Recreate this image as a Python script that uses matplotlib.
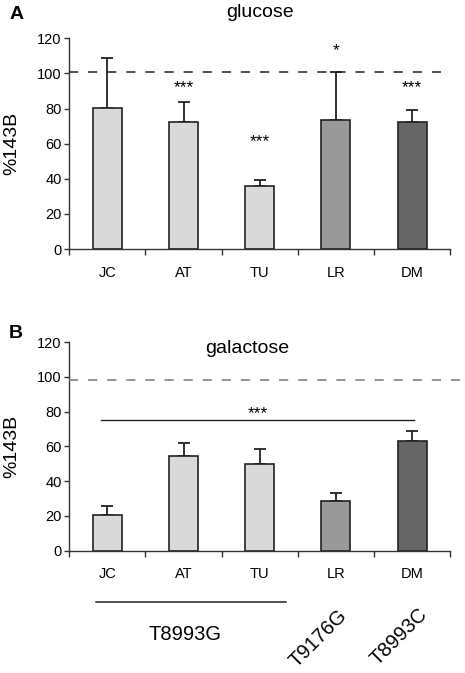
import numpy as np
import matplotlib
matplotlib.use("Agg")
import matplotlib.pyplot as plt
import matplotlib.transforms as mtransforms

plt.rcParams['font.family'] = ['Liberation Sans', 'DejaVu Sans']

# data
patients = ["JC", "AT", "TU", "LR", "DM"]
bar_colors = ["#d9d9d9", "#d9d9d9", "#d9d9d9", "#999999", "#666666"]

glu_mean = [80.5, 72.2, 36.1, 73.7, 72.2]
glu_top = [109.0, 83.6, 39.1, 100.6, 79.0]
glu_stars = ["", "***", "***", "*", "***"]
glu_star_y = [0, 92, 61, 113, 92]
glu_ref = 101

gal_mean = [20.2, 54.5, 49.9, 28.6, 63.0]
gal_top = [25.7, 62.2, 58.2, 33.4, 69.1]
gal_ref = 98.3
gal_sig_y = 75.3

yticks = [0, 20, 40, 60, 80, 100, 120]

fig = plt.figure(figsize=(4.65, 6.73), dpi=100)
ax_a = fig.add_axes([0.149, 0.630, 0.819, 0.313])
ax_b = fig.add_axes([0.149, 0.182, 0.819, 0.3095])


def draw_panel(ax, mean, top, ref, ref_color, ref_xmax):
    x = np.arange(len(patients))
    ax.bar(x, mean, width=0.38, color=bar_colors, edgecolor="#222222", lw=1.2, zorder=2)
    upper = np.array(top) - np.array(mean)
    ax.errorbar(x, mean, yerr=[np.zeros(len(x)), upper], fmt="none", ecolor="#222222",
                elinewidth=1.3, capsize=4.5, capthick=1.3, zorder=1)
    ax.axhline(ref, xmin=0, xmax=ref_xmax, color=ref_color, lw=1.1, dashes=(6, 6.5),
               clip_on=False, zorder=3)
    ax.set_xlim(-0.5, 4.5)
    ax.set_ylim(0, 120)
    ax.set_yticks(yticks)
    ax.set_xticks(x)
    ax.set_xticklabels(patients, fontsize=10.5)
    ax.set_xticks(np.arange(-0.5, 5, 1), minor=True)
    ax.tick_params(axis="x", which="major", length=0, pad=12)
    ax.tick_params(axis="x", which="minor", length=4, width=1, color="#333333")
    ax.tick_params(axis="y", length=3.5, width=1, color="#333333", labelsize=10.5, pad=2)
    for s in ["top", "right"]:
        ax.spines[s].set_visible(False)
    for s in ["left", "bottom"]:
        ax.spines[s].set_color("#333333")
        ax.spines[s].set_linewidth(1)
    ax.set_ylabel("%143B", fontsize=14)
    ax.yaxis.set_label_coords(-0.128, 0.5)


# panel A, glucose
draw_panel(ax_a, glu_mean, glu_top, glu_ref, "#222222", 0.993)
for i, s in enumerate(glu_stars):
    if s:
        ax_a.text(i, glu_star_y[i], s, ha="center", va="center", fontsize=12.5)
ax_a.text(0.5, 1.125, "glucose", transform=ax_a.transAxes, ha="center", va="center", fontsize=14)
fig.text(0.021, 0.979, "A", fontsize=14, fontweight="bold", ha="left", va="center")

# panel B, galactose
draw_panel(ax_b, gal_mean, gal_top, gal_ref, "#777777", 1.04)
ax_b.plot([-0.08, 4.03], [gal_sig_y, gal_sig_y], color="#222222", lw=1)
ax_b.text(1.98, gal_sig_y + 3.5, "***", ha="center", va="center", fontsize=12.5)
ax_b.text(0.466, 0.97, "galactose", transform=ax_b.transAxes, ha="center", va="center", fontsize=14)
fig.text(0.019, 0.505, "B", fontsize=14, fontweight="bold", ha="left", va="center")

# mutation groups under panel B
trans = mtransforms.blended_transform_factory(ax_b.transData, ax_b.transAxes)
ax_b.plot([-0.15, 2.35], [-0.245, -0.245], color="#222222", lw=1.1, transform=trans, clip_on=False)
ax_b.text(1.02, -0.405, "T8993G", transform=trans, ha="center", va="center", fontsize=14.5)
ax_b.text(3.19, -0.265, "T9176G", transform=trans, ha="right", va="top", rotation=45, fontsize=14.5)
ax_b.text(4.25, -0.26, "T8993C", transform=trans, ha="right", va="top", rotation=45, fontsize=14.5)

fig.savefig("out.png", dpi=100)
